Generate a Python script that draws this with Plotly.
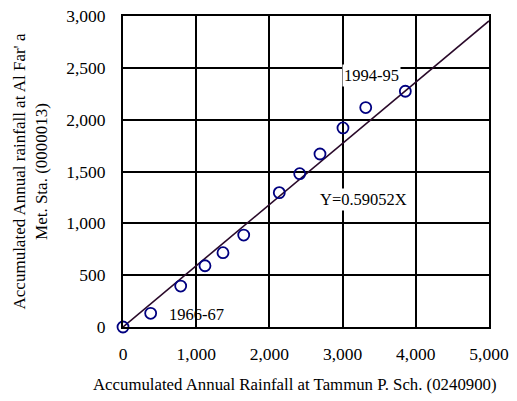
import plotly.graph_objects as go

tammun = [0, 378, 788, 1120, 1366, 1649, 2135, 2414, 2691, 3005, 3316, 3857]
alfara = [0, 132, 395, 591, 717, 887, 1296, 1479, 1669, 1920, 2117, 2274]
slope = 0.59052
line_x = [0, 5000]
line_y = [slope * v for v in line_x]
x_ticks = [0, 1000, 2000, 3000, 4000, 5000]
y_ticks = [0, 500, 1000, 1500, 2000, 2500, 3000]

font = "Liberation Serif, Times New Roman, serif"

fig = go.Figure()
fig.add_trace(go.Scatter(x=line_x, y=line_y, mode="lines",
                         line=dict(color="#2a0a2a", width=1.6), showlegend=False,
                         hoverinfo="skip"))
fig.add_trace(go.Scatter(x=tammun, y=alfara, mode="markers",
                         marker=dict(symbol="circle-open", size=11, color="#000080",
                                     line=dict(width=1.8, color="#000080")),
                         showlegend=False, cliponaxis=False))

fig.add_annotation(x=3400, y=2425, text="1994-95", showarrow=False,
                   font=dict(family=font, size=16.5, color="black"), bgcolor="white")
fig.add_annotation(x=3290, y=1228, text="Y=0.59052X", showarrow=False,
                   font=dict(family=font, size=16.5, color="black"), bgcolor="white")
fig.add_annotation(x=1000, y=120, text="1966-67", showarrow=False,
                   font=dict(family=font, size=16.5, color="black"))

# x-axis title
fig.add_annotation(xref="paper", yref="paper", x=0.47, y=0, yshift=-46,
                   xanchor="center", yanchor="top", showarrow=False,
                   text="Accumulated Annual Rainfall at Tammun P. Sch. (0240900)",
                   font=dict(family=font, size=16.8, color="black"))

axis_common = dict(showgrid=True, gridcolor="black", gridwidth=1.6,
                   showline=True, linecolor="black", linewidth=2, mirror=True,
                   zeroline=False, tickformat=",d", ticks="outside",
                   tickcolor="rgba(0,0,0,0)", automargin=False,
                   ticklabeloverflow="allow",
                   tickfont=dict(family=font, size=17.5, color="black"))

fig.update_layout(
    width=517, height=401,
    margin=dict(l=123, r=28, t=16, b=74),
    paper_bgcolor="white", plot_bgcolor="white",
    font=dict(family=font, color="black"),
    xaxis=dict(range=[0, 5000], tickvals=x_ticks, ticklen=10, **axis_common),
    yaxis=dict(range=[0, 3000], tickvals=y_ticks, ticklen=12,
               title=dict(text="Accumulated Annual rainfall at Al Far' a<br>Met. Sta. (0000013)",
                          font=dict(family=font, size=17), standoff=14),
               **axis_common),
)

fig.write_html("out.html", config={"displayModeBar": False},
               post_script="document.body.style.margin='0';document.body.style.overflow='hidden';")
